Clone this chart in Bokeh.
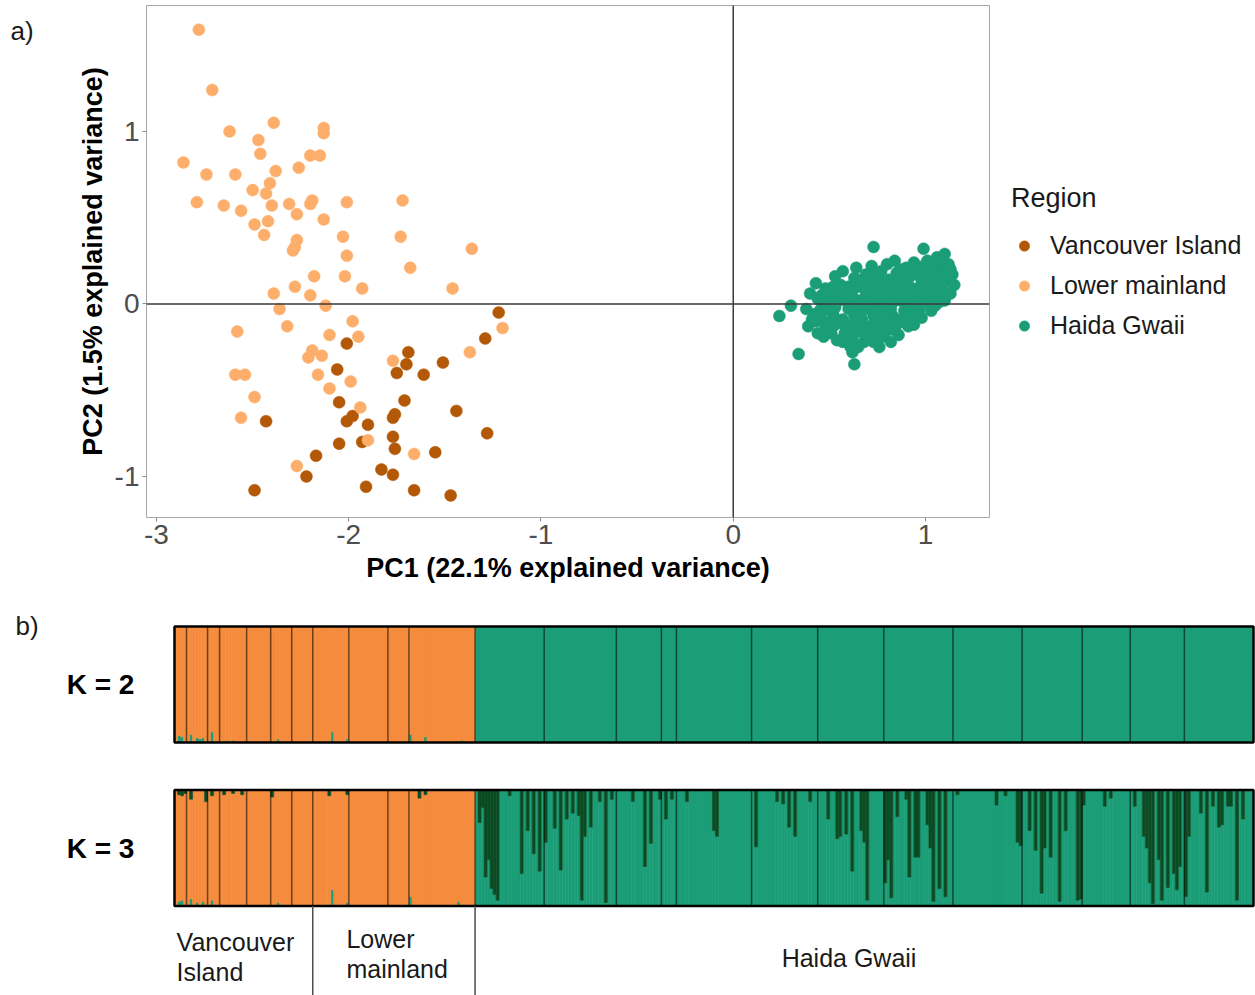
import numpy as np
from bokeh.plotting import figure
from bokeh.models import Range1d, Span, Legend, LegendItem, FixedTicker
from bokeh.layouts import column, row
from bokeh.embed import file_html
from bokeh.resources import INLINE
from bokeh.core.properties import value

# ---------------------------------------------------------------- data
region_names = ["Vancouver Island", "Lower mainland", "Haida Gwaii"]
panel_tags = ["a)", "b)"]

# PCA scores per region
vi_pc1 = [-1.22, -1.29, -2.01, -1.69, -1.70, -1.51, -2.06, -1.75, -1.61, -2.05,
          -1.71, -1.44, -2.43, -2.01, -1.98, -1.77, -1.76, -1.90, -1.28, -1.77,
          -2.05, -1.93, -1.76, -1.55, -2.17, -1.83, -1.77, -2.22, -2.49, -1.91,
          -1.66, -1.47]
vi_pc2 = [-0.05, -0.20, -0.23, -0.28, -0.35, -0.34, -0.38, -0.40, -0.41, -0.57,
          -0.56, -0.62, -0.68, -0.68, -0.65, -0.66, -0.64, -0.70, -0.75, -0.77,
          -0.81, -0.80, -0.84, -0.86, -0.88, -0.96, -0.99, -1.00, -1.08, -1.06,
          -1.08, -1.11]

lm_pc1 = [-2.78, -2.71, -2.39, -2.62, -2.13, -2.13, -2.47, -2.46, -2.20, -2.15,
          -2.86, -2.26, -2.74, -2.59, -2.38, -2.41, -2.50, -2.43, -2.79, -2.65,
          -2.56, -2.40, -2.31, -2.27, -2.19, -2.20, -2.01, -1.72, -2.13, -2.49,
          -2.42, -2.44, -2.03, -1.73, -2.27, -2.28, -2.29, -2.01, -1.36, -1.68,
          -2.18, -2.02, -2.28, -1.93, -1.46, -2.39, -2.20, -2.12, -2.36, -2.58,
          -2.32, -1.98, -2.10, -1.95, -2.19, -2.21, -2.14, -1.20, -1.37, -2.59,
          -2.54, -2.16, -1.99, -1.77, -2.10, -2.49, -1.94, -2.56, -1.90, -1.66,
          -2.27]
lm_pc2 = [1.59, 1.24, 1.05, 1.00, 1.02, 0.99, 0.95, 0.87, 0.86, 0.86,
          0.82, 0.79, 0.75, 0.75, 0.77, 0.70, 0.66, 0.64, 0.59, 0.57,
          0.54, 0.57, 0.58, 0.52, 0.60, 0.58, 0.59, 0.60, 0.49, 0.46,
          0.48, 0.40, 0.39, 0.39, 0.37, 0.33, 0.31, 0.28, 0.32, 0.21,
          0.16, 0.16, 0.10, 0.09, 0.09, 0.06, 0.05, -0.01, -0.03, -0.16,
          -0.13, -0.10, -0.18, -0.19, -0.27, -0.31, -0.30, -0.14, -0.28, -0.41,
          -0.41, -0.41, -0.45, -0.33, -0.49, -0.54, -0.60, -0.66, -0.79, -0.87,
          -0.94]

hg_pc1 = [0.24, 0.30, 0.34, 0.38, 0.39, 0.40, 0.43, 0.42, 0.44, 0.45,
          0.47, 0.48, 0.49, 0.47, 0.51, 0.52, 0.53, 0.52, 0.54, 0.55,
          0.56, 0.57, 0.58, 0.58, 0.57, 0.60, 0.61, 0.62, 0.61, 0.63,
          0.62, 0.63, 0.65, 0.66, 0.64, 0.66, 0.67, 0.63, 0.68, 0.69,
          0.70, 0.69, 0.71, 0.70, 0.73, 0.72, 0.73, 0.74, 0.73, 0.75,
          0.74, 0.76, 0.77, 0.78, 0.77, 0.79, 0.78, 0.79, 0.80, 0.81,
          0.82, 0.81, 0.83, 0.82, 0.83, 0.85, 0.86, 0.85, 0.87, 0.86,
          0.84, 0.88, 0.89, 0.90, 0.89, 0.91, 0.90, 0.92, 0.93, 0.94,
          0.93, 0.95, 0.94, 0.96, 0.97, 0.98, 0.97, 0.99, 0.98, 0.99,
          1.00, 1.01, 1.02, 1.01, 1.03, 1.02, 1.04, 1.05, 1.06, 1.05,
          1.07, 1.06, 1.08, 1.09, 1.10, 1.10, 1.11, 1.12, 1.13, 1.14, 1.15,
          0.41, 0.46, 0.50, 0.55, 0.59, 0.64, 0.68, 0.72, 0.76, 0.80,
          0.84, 0.88, 0.92, 0.96, 1.00, 1.04, 0.45, 0.53, 0.60, 0.67,
          0.75, 0.83, 0.91, 0.99, 1.08, 0.57, 0.65, 0.71, 0.80, 0.88,
          0.95, 1.03, 1.11, 0.50, 0.62, 0.76, 0.87, 0.97, 1.07,
          0.44, 0.52, 0.58, 0.66, 0.70, 0.79, 0.85, 0.92, 0.98, 1.05,
          0.48, 0.56, 0.69, 0.74, 0.82, 0.90, 1.01, 1.09, 0.61, 0.72,
          0.84, 0.94, 1.02, 1.13,
          0.47, 0.51, 0.55, 0.59, 0.60, 0.64, 0.67, 0.69, 0.71, 0.73,
          0.75, 0.77, 0.78, 0.81, 0.84, 0.86, 0.88, 0.91, 0.92, 0.95,
          0.97, 1.00, 1.03, 1.07, 1.09, 1.12, 0.56, 0.43, 0.52, 0.62]
hg_pc2 = [-0.07, -0.01, -0.29, -0.03, -0.13, 0.06, 0.12, -0.06, -0.17, 0.02,
          -0.10, 0.09, -0.02, -0.19, 0.05, -0.13, 0.16, -0.06, -0.21, 0.02,
          0.11, -0.09, -0.17, 0.04, 0.19, -0.03, -0.25, 0.08, -0.13, 0.15,
          -0.20, -0.07, 0.02, -0.16, 0.21, 0.10, -0.09, -0.35, -0.22, 0.05,
          -0.03, 0.17, -0.13, 0.12, 0.33, 0.22, -0.18, 0.07, -0.07, 0.00,
          0.14, -0.25, 0.19, -0.11, 0.04, 0.10, -0.19, -0.02, 0.23, -0.15,
          0.06, 0.14, -0.07, -0.22, 0.01, 0.18, -0.11, 0.09, 0.02, -0.18,
          0.25, 0.13, -0.04, 0.21, 0.07, -0.13, 0.00, 0.16, -0.08, 0.24,
          0.09, 0.02, -0.12, 0.19, -0.03, 0.12, 0.05, 0.32, -0.08, 0.22,
          0.15, 0.01, 0.09, 0.25, -0.04, 0.18, 0.12, 0.05, 0.21, -0.01,
          0.15, 0.27, 0.08, 0.19, 0.29, 0.02, 0.13, 0.23, 0.06, 0.17, 0.11,
          -0.09, 0.05, -0.16, 0.08, -0.12, -0.02, -0.15, 0.03, -0.05, -0.09,
          0.03, -0.10, 0.05, 0.08, 0.20, 0.10, -0.04, -0.02, 0.00, 0.14,
          0.09, 0.11, 0.11, 0.17, 0.25, -0.22, -0.25, -0.02, -0.12, -0.09,
          -0.05, 0.14, 0.18, 0.00, 0.04, -0.15, 0.20, 0.01, 0.01,
          0.03, -0.09, -0.12, -0.05, -0.18, -0.06, 0.06, -0.02, 0.16, 0.10,
          -0.13, 0.07, 0.09, -0.12, -0.03, 0.04, 0.20, 0.11, -0.17, 0.16,
          -0.15, -0.05, 0.13, 0.20,
          -0.04, -0.17, -0.11, -0.21, 0.10, -0.10, 0.00, -0.17, 0.08, -0.22,
          0.17, -0.15, 0.14, 0.02, -0.14, 0.13, -0.09, 0.18, 0.04, -0.06,
          0.16, 0.06, 0.22, 0.04, 0.13, 0.18, 0.07, -0.10, 0.10, -0.28]

pc1_ticks = [-3, -2, -1, 0, 1]
pc2_ticks = [-1, 0, 1]
pc1_title = "PC1 (22.1% explained variance)"
pc2_title = "PC2 (1.5% explained variance)"

# STRUCTURE: individuals per sampling site, and sites per region
site_sizes = [4, 7, 4, 9, 8, 7, 7,
              12, 13, 7, 22,
              23, 24, 15, 5, 25, 22, 22, 23, 23, 20, 16, 18, 23]
sites_per_region = [7, 4, 13]

# K = 2: mainland individuals carrying some Haida Gwaii ancestry (%)
k2_main_idx = [1, 2, 5, 7, 8, 9, 12, 17, 19, 34, 52, 57, 78, 83, 95]
k2_main_green = [6, 5, 7, 4, 3, 4, 9, 2, 2, 3, 9, 3, 7, 5, 2]

# K = 3: mainland individuals with minor ancestry (%)
k3_main_green_idx = [1, 2, 5, 7, 9, 12, 34, 52, 57, 78, 94]
k3_main_green = [4, 5, 6, 3, 4, 5, 3, 14, 3, 8, 4]
k3_main_dark_idx = [1, 2, 3, 5, 10, 12, 16, 19, 22, 32, 51, 57, 81, 83]
k3_main_dark = [4, 5, 3, 8, 10, 5, 4, 3, 4, 6, 5, 4, 7, 4]

# K = 3: Haida Gwaii individuals (index within region) with third-cluster ancestry (%)
k3_hg_dark_idx = [1, 2, 3, 4, 5, 6, 7, 11, 15, 17, 19, 21, 23, 26, 28, 30,
                  32, 34, 35, 36, 38, 41, 43, 45, 52, 56, 58, 61, 63, 65, 70,
                  79, 80, 93, 100, 102, 104, 106, 111, 117, 120, 121, 123, 125,
                  128, 129, 130, 136, 137, 138, 140, 143, 144, 146, 147, 150,
                  151, 152, 154, 156, 160, 173, 176, 180, 181, 184, 186, 188,
                  189, 191, 194, 196, 200, 201, 202, 209, 211, 219, 222, 223,
                  224, 225, 227, 228, 230, 232, 233, 234, 236, 237, 241, 243,
                  245, 247, 248, 250, 251, 253, 255]
k3_hg_dark = [28, 15, 75, 60, 85, 90, 95, 5, 72, 35, 55, 70, 45, 33, 69, 25,
              20, 22, 95, 40, 32, 10, 97, 8, 10, 66, 46, 8, 25, 8, 10,
              35, 40, 49, 10, 12, 32, 40, 10, 25, 42, 40, 38, 70,
              35, 45, 95, 80, 60, 93, 23, 8, 75, 58, 58, 30,
              50, 96, 85, 92, 4, 13, 5, 45, 48, 35, 52, 89,
              50, 58, 96, 35, 95, 94, 13, 14, 7, 14, 40, 50,
              80, 98, 60, 95, 84, 72, 86, 66, 92, 40, 20, 88,
              14, 32, 30, 14, 14, 95, 25]

k_labels = ["K = 2", "K = 3"]
region_label_lines = [["Vancouver", "Island"], ["Lower", "mainland"], ["Haida Gwaii"]]

# ---------------------------------------------------------------- styling
FONT = "Liberation Sans"
pca_colors = ["#B35806", "#FDAE6B", "#1B9E77"]
GREEN, ORANGE, DARK = "#1B9E77", "#F58B3C", "#0B4B24"
W = 1255

# ---------------------------------------------------------------- a) PCA
TOP_H = 598
TAG_W = 60                          # narrow strip holding the panel tag
FL, FR, FT, FB = 146, 989, 5, 517
p = figure(frame_width=FR - FL, frame_height=FB - FT,
           x_range=Range1d(-3.052, 1.333), y_range=Range1d(-1.238, 1.730),
           output_backend="svg", toolbar_location=None, frame_align=False,
           min_border_left=FL - TAG_W, min_border_right=0,
           min_border_top=FT, min_border_bottom=TOP_H - FB,
           background_fill_color="white", border_fill_color="white",
           outline_line_color="#a6a6a6", outline_line_width=1)
p.grid.visible = False

for ax, ticks, title, standoff in [(p.xaxis[0], pc1_ticks, pc1_title, 6),
                                    (p.yaxis[0], pc2_ticks, pc2_title, 4)]:
    ax.ticker = FixedTicker(ticks=ticks)
    ax.major_label_overrides = {t: str(t) for t in ticks}
    ax.axis_label = title
    ax.axis_label_text_font = FONT
    ax.axis_label_text_font_style = "bold"
    ax.axis_label_text_font_size = "27px"
    ax.axis_label_text_color = "black"
    ax.axis_label_standoff = standoff
    ax.major_label_text_font = FONT
    ax.major_label_text_font_size = "28px"
    ax.major_label_text_color = "#4d4d4d"
    ax.major_label_standoff = 3
    ax.axis_line_color = None
    ax.major_tick_line_color = "#8c8c8c"
    ax.major_tick_in = 0
    ax.major_tick_out = 4
    ax.minor_tick_line_color = None

renderers = []
for xs, ys, c in zip([vi_pc1, lm_pc1, hg_pc1], [vi_pc2, lm_pc2, hg_pc2], pca_colors):
    renderers.append(p.scatter(xs, ys, size=12, fill_color=c, line_color=c, line_width=0.5))

p.add_layout(Span(location=0, dimension="height", line_color="#3a3a3a", line_width=1.5))
p.add_layout(Span(location=0, dimension="width", line_color="#3a3a3a", line_width=1.5))

legend = Legend(items=[LegendItem(label=n, renderers=[r]) for n, r in zip(region_names, renderers)],
                title="Region", location="center_left", orientation="vertical",
                title_text_font=FONT, title_text_font_size="27px", title_text_font_style="normal",
                title_text_color="#1a1a1a", title_standoff=17,
                label_text_font=FONT, label_text_font_size="25px", label_text_color="#1a1a1a",
                glyph_width=26, glyph_height=26, label_height=26, label_standoff=13,
                spacing=11, padding=0, margin=22,
                background_fill_alpha=0, border_line_color=None)
p.add_layout(legend, "right")

# strip on the left carrying the "a)" tag
tag = figure(width=TAG_W, height=TOP_H, x_range=Range1d(0, TAG_W), y_range=Range1d(TOP_H, 0),
             output_backend="svg", toolbar_location=None, min_border=0, frame_align=False,
             x_axis_location=None, y_axis_location=None, outline_line_color=None,
             background_fill_color="white", border_fill_color="white")
tag.grid.visible = False
tag.text(x=[10], y=[30], text=[panel_tags[0]], text_font=value(FONT), text_font_size=value("26px"),
         text_align="left", text_baseline="middle", text_color="#1a1a1a")

# ---------------------------------------------------------------- b) STRUCTURE
BOT_H = 995 - TOP_H
BAR_L, BAR_R = 174, 1253           # pixel extent of the bar plots
ROW_PX = 116                        # pixel height of one admixture row
K3_BOTTOM_PX = 905.5 - TOP_H        # bottom of the K = 3 row within this canvas
K2_BOTTOM_PX = 742.0 - TOP_H

site_sizes = np.array(site_sizes)
n_total = int(site_sizes.sum())
site_bounds = np.cumsum(site_sizes)
region_bounds = site_bounds[np.cumsum(sites_per_region) - 1]
region_starts = np.concatenate([[0], region_bounds[:-1]])
n_main = int(region_bounds[1])

ppu = (BAR_R - BAR_L) / n_total
k3_base = 0.0
k2_base = (K3_BOTTOM_PX - K2_BOTTOM_PX) / ROW_PX
s = figure(width=W, height=BOT_H,
           x_range=Range1d(-BAR_L / ppu, (W - BAR_L) / ppu),
           y_range=Range1d(-(BOT_H - K3_BOTTOM_PX) / ROW_PX, K3_BOTTOM_PX / ROW_PX),
           output_backend="svg", toolbar_location=None, min_border=0, frame_align=False,
           x_axis_location=None, y_axis_location=None,
           outline_line_color=None, background_fill_color="white", border_fill_color="white")
s.grid.visible = False


def admixture(k):
    green = np.zeros(n_total)
    dark = np.zeros(n_total)
    green[n_main:] = 1.0
    if k == 2:
        green[k2_main_idx] = np.array(k2_main_green) / 100
    else:
        green[k3_main_green_idx] = np.array(k3_main_green) / 100
        dark[k3_main_dark_idx] = np.array(k3_main_dark) / 100
        hi = n_main + np.array(k3_hg_dark_idx)
        dark[hi] = np.array(k3_hg_dark) / 100
        green[hi] = 1.0 - dark[hi]
    orange = 1.0 - green - dark
    return [green, orange, dark]


def merged_runs(lo, hi):
    """Join neighbouring individuals whose segment is identical into one rectangle."""
    L, R, B, T = [], [], [], []
    i = 0
    while i < n_total:
        if hi[i] - lo[i] <= 1e-9:
            i += 1
            continue
        j = i + 1
        while j < n_total and abs(lo[j] - lo[i]) < 1e-9 and abs(hi[j] - hi[i]) < 1e-9:
            j += 1
        L.append(i); R.append(j); B.append(lo[i]); T.append(hi[i])
        i = j
    return L, R, B, T


for k, base in [(2, k2_base), (3, k3_base)]:
    lo = np.full(n_total, base)
    for q, col in zip(admixture(k), [GREEN, ORANGE, DARK]):
        hi = lo + q
        L, R, B, T = merged_runs(lo, hi)
        s.quad(left=L, right=R, bottom=B, top=T,
               fill_color=col, line_color=col, line_width=0.6)
        lo = hi
    xs = site_bounds[:-1]
    s.segment(x0=xs, y0=[base] * len(xs), x1=xs, y1=[base + 1] * len(xs),
              line_color="black", line_alpha=0.55, line_width=1.5)
    s.quad(left=[0], right=[n_total], bottom=[base], top=[base + 1],
           fill_color=None, line_color="black", line_width=2.5)

# region separators under the K = 3 row
yb = -(BOT_H - K3_BOTTOM_PX) / ROW_PX
sx = region_bounds[:-1]
s.segment(x0=sx, y0=[k3_base] * len(sx), x1=sx, y1=[yb] * len(sx),
          line_color="#4d4d4d", line_width=1.5)

# region names
lab_x, lab_y, lab_t = [], [], []
offsets = [0.7, 11.2, 102.0]
line_y = [[-0.31, -0.57], [-0.285, -0.545], [-0.45]]
for start, off, lines, ys in zip(region_starts, offsets, region_label_lines, line_y):
    for t, yy in zip(lines, ys):
        lab_x.append(start + off)
        lab_y.append(yy)
        lab_t.append(t)
s.text(x=lab_x, y=lab_y, text=lab_t, text_font=value(FONT), text_font_size=value("25px"),
       text_align="left", text_baseline="middle", text_color="#1a1a1a")

# K labels
s.text(x=[-24.6, -24.6], y=[k2_base + 0.5, k3_base + 0.5], text=k_labels,
       text_font=value(FONT), text_font_size=value("28px"), text_font_style="bold",
       text_align="center", text_baseline="middle", text_color="black")

s.text(x=[-52.9], y=[2.418], text=[panel_tags[1]], text_font=value(FONT), text_font_size=value("26px"),
       text_align="left", text_baseline="middle", text_color="#1a1a1a")

layout = column(row(tag, p, spacing=0), s, spacing=0)
open("out.html", "w").write(file_html(layout, INLINE))
